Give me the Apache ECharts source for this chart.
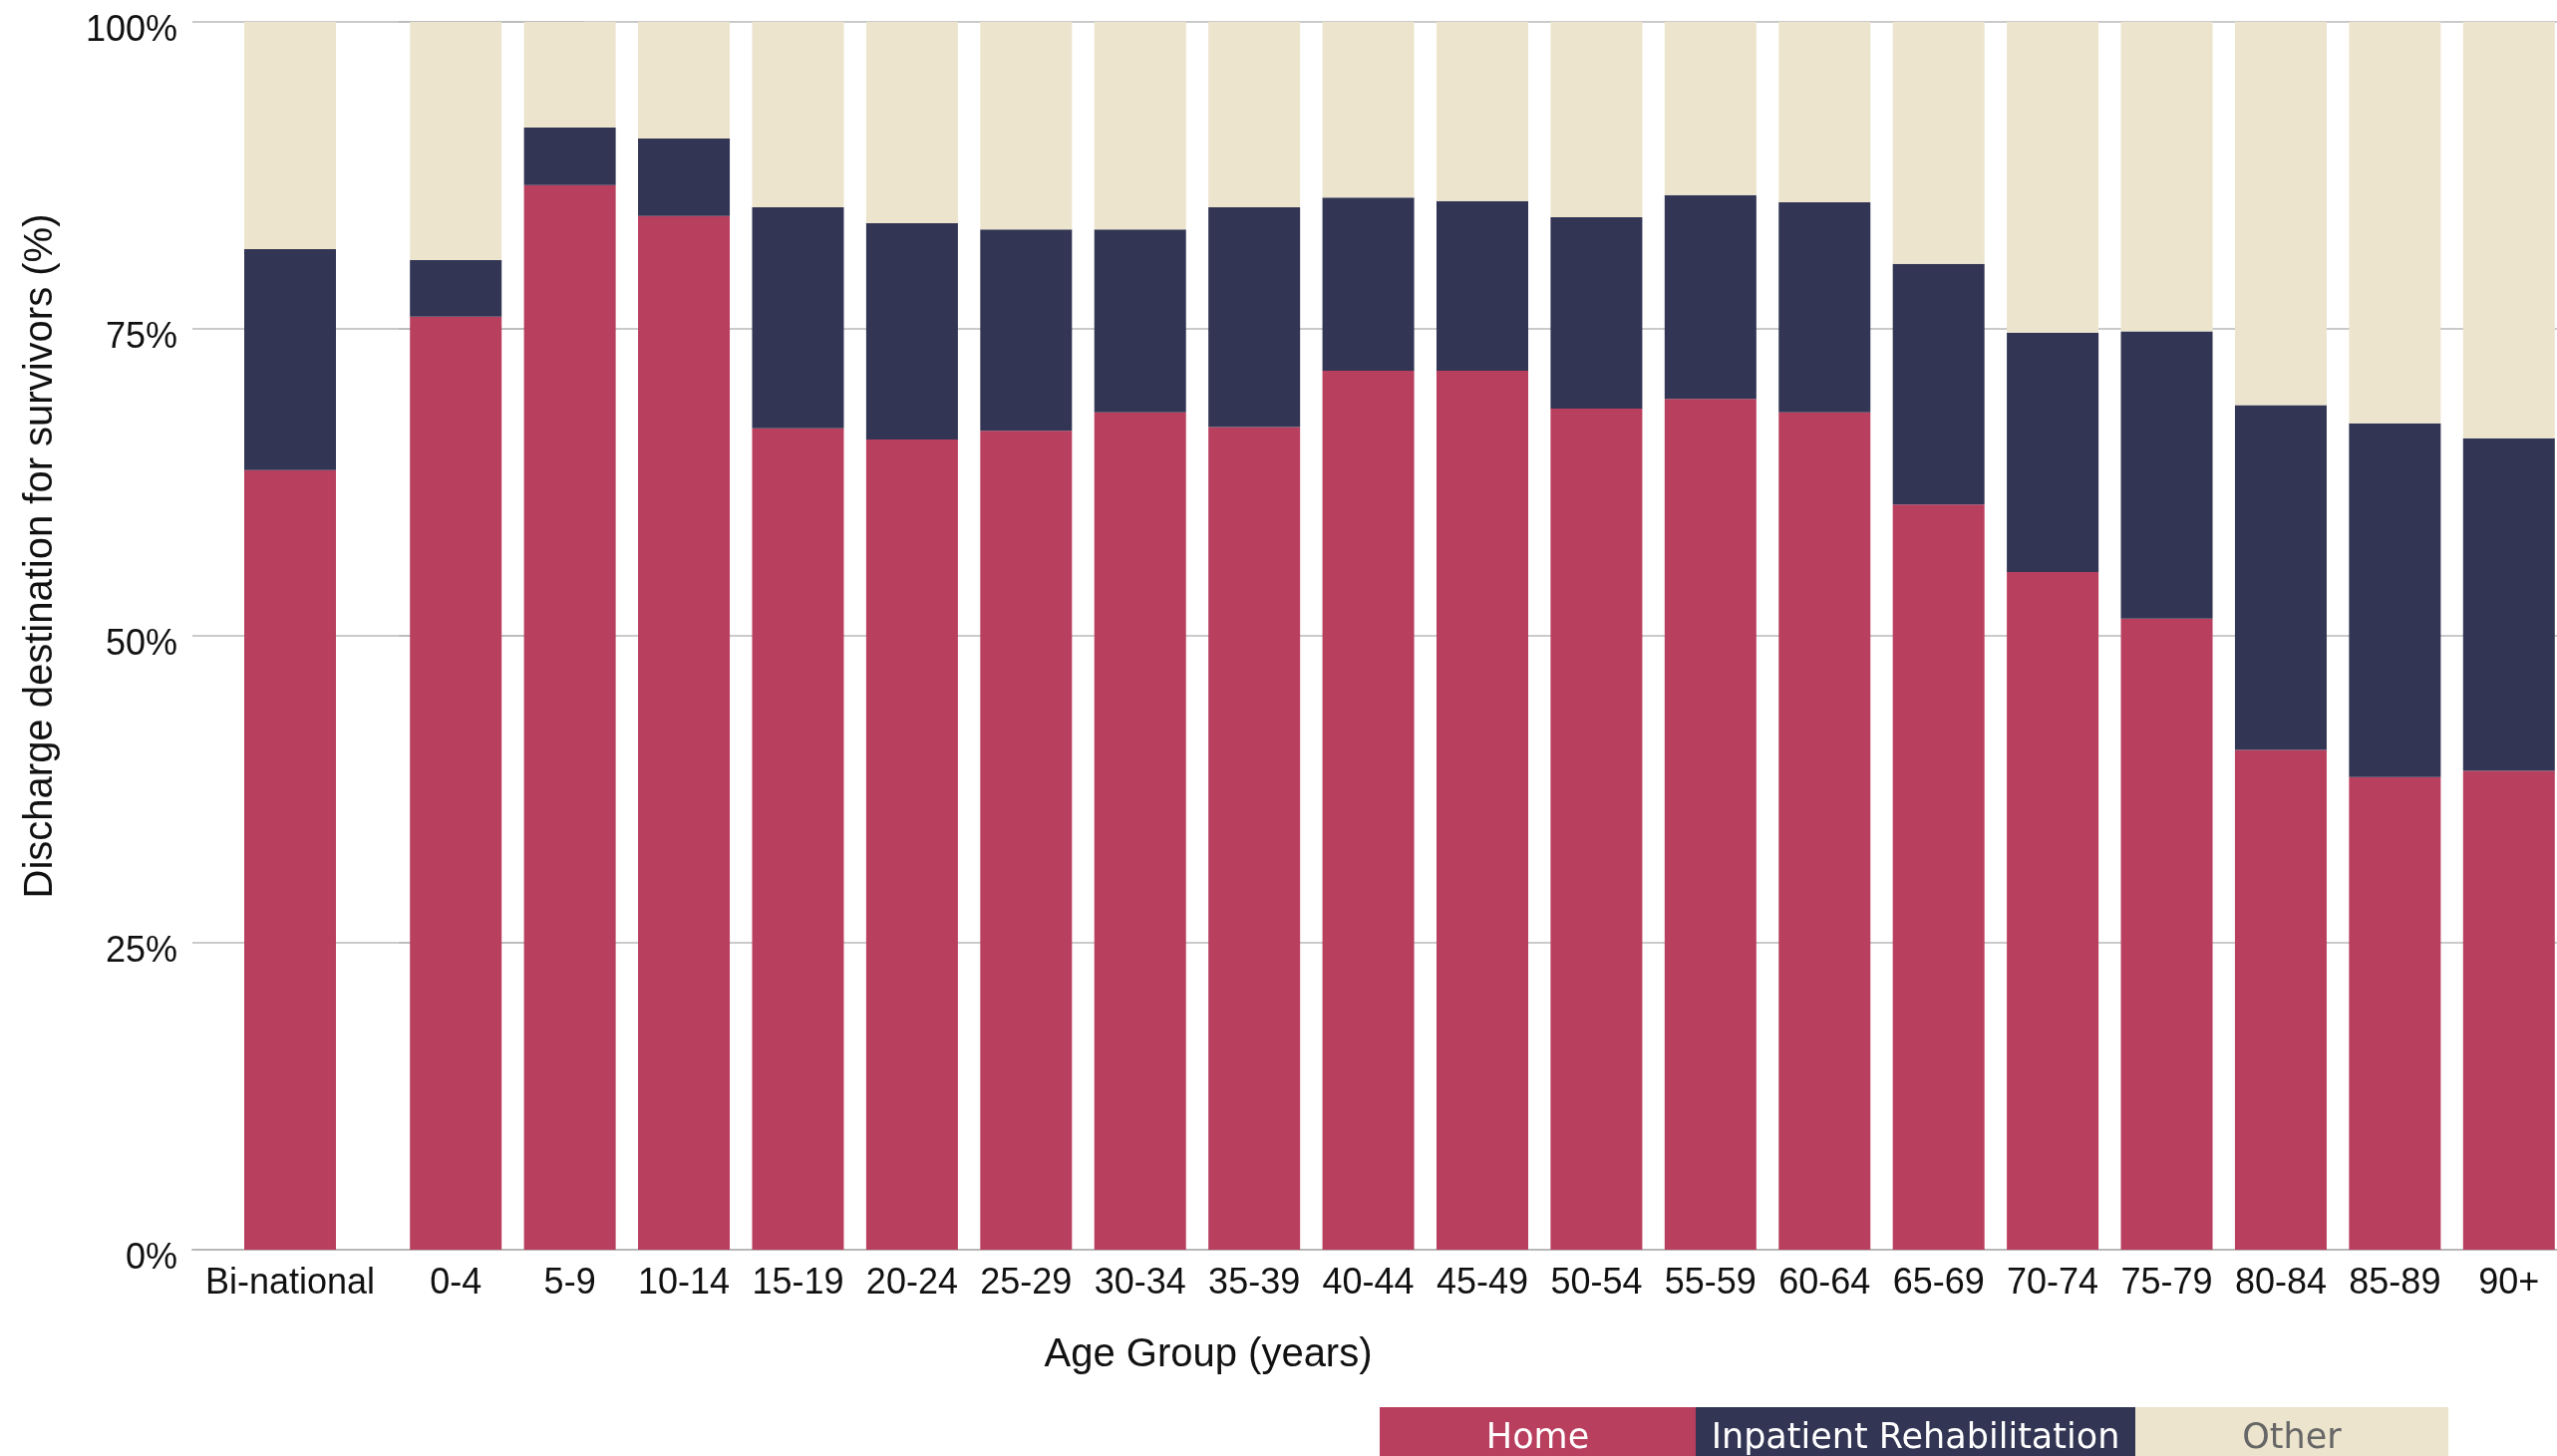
<!DOCTYPE html>
<html>
<head>
<meta charset="utf-8">
<script src="https://cdn.jsdelivr.net/npm/echarts@6/dist/echarts.min.js"></script>
<style>
html,body{margin:0;padding:0;background:#fff;}
#chart{width:2565px;height:1461px;}
</style>
</head>
<body>
<div id="chart"></div>
<script>
// ---- data ----
const nationalLabel = ['Bi-national', ''];
const nationalHome = [63.5, null];
const nationalInpatient = [18.0, null];
const nationalOther = [18.5, null];

const ageGroups = ['0-4','5-9','10-14','15-19','20-24','25-29','30-34','35-39','40-44','45-49','50-54','55-59','60-64','65-69','70-74','75-79','80-84','85-89','90+'];
const homeValues      = [76.0, 86.7, 84.2, 66.9, 66.0, 66.7, 68.2, 67.0, 71.6, 71.6, 68.5, 69.3, 68.2, 60.7, 55.2, 51.4, 40.7, 38.5, 39.0];
const inpatientValues = [ 4.6,  4.7,  6.3, 18.0, 17.6, 16.4, 14.9, 17.9, 14.1, 13.8, 15.6, 16.6, 17.1, 19.6, 19.5, 23.4, 28.1, 28.8, 27.1];
const otherValues     = [19.4,  8.6,  9.5, 15.1, 16.4, 16.9, 16.9, 15.1, 14.3, 14.6, 15.9, 14.1, 14.7, 19.7, 25.3, 25.2, 31.2, 32.7, 33.9];

const yTicks = [0, 25, 50, 75, 100];
const seriesNames = ['Home', 'Inpatient Rehabilitation', 'Other'];

// ---- style ----
const colors = {'Home': '#B93F5F', 'Inpatient Rehabilitation': '#323553', 'Other': '#ECE4CD'};
const axisFont = 'Liberation Sans, Arial, sans-serif';
const gridColor = '#b8b8b8';

const chart = echarts.init(document.getElementById('chart'), null, {renderer: 'canvas'});

function yAxisCfg(gridIndex, showLabels) {
  return {
    type: 'value', gridIndex: gridIndex, min: yTicks[0], max: yTicks[yTicks.length - 1], interval: 25,
    axisLine: {show: false}, axisTick: {show: false},
    splitLine: {show: true, lineStyle: {color: gridColor, width: 1.5}},
    axisLabel: {
      show: showLabels, margin: 15,
      formatter: function (v) { return '{t|' + v + '%}'; },
      rich: {t: {fontFamily: axisFont, fontSize: 36, color: '#111', padding: [18, 0, 0, 0]}}
    }
  };
}
function xAxisCfg(gridIndex, data) {
  return {
    type: 'category', gridIndex: gridIndex, data: data,
    axisLine: {show: true, lineStyle: {color: gridColor, width: 2}},
    axisTick: {show: false},
    axisLabel: {fontFamily: axisFont, fontSize: 36, color: '#111', margin: 16, interval: 0}
  };
}

const nationalSets = [nationalHome, nationalInpatient, nationalOther];
const ageSets = [homeValues, inpatientValues, otherValues];
const series = [];
seriesNames.forEach((name, i) => {
  series.push({
    name: name, type: 'bar', stack: 'national', xAxisIndex: 0, yAxisIndex: 0,
    data: nationalSets[i], barWidth: 92, itemStyle: {color: colors[name]},
    emphasis: {disabled: true}
  });
});
seriesNames.forEach((name, i) => {
  series.push({
    name: name, type: 'bar', stack: 'age', xAxisIndex: 1, yAxisIndex: 1,
    data: ageSets[i], barWidth: 92, itemStyle: {color: colors[name]},
    emphasis: {disabled: true}
  });
});

const legendWidths = {'Home': 317, 'Inpatient Rehabilitation': 441, 'Other': 314};
const legendKeys = {'Home': 'home', 'Inpatient Rehabilitation': 'inp', 'Other': 'oth'};
function legendRich(name, textColor) {
  return {
    width: legendWidths[name], height: 64, align: 'center', verticalAlign: 'middle',
    backgroundColor: colors[name], color: textColor,
    fontFamily: 'DejaVu Sans, sans-serif', fontSize: 35
  };
}

chart.setOption({
  animation: false,
  backgroundColor: '#fff',
  grid: [
    {left: 193, top: 22, width: 392, height: 1232, outerBoundsMode: 'none', containLabel: false},
    {left: 400, top: 22, width: 2174, height: 1232, outerBoundsMode: 'none', containLabel: false}
  ],
  xAxis: [xAxisCfg(0, nationalLabel), xAxisCfg(1, ageGroups)],
  yAxis: [yAxisCfg(0, true), yAxisCfg(1, false)],
  legend: {
    left: 1379, top: 1412, padding: 0, itemWidth: 0, itemHeight: 0, itemGap: -5, icon: 'none',
    selectedMode: false,
    data: seriesNames,
    formatter: function (name) { return '{' + legendKeys[name] + '|' + name + '}'; },
    textStyle: {
      rich: {
        home: legendRich('Home', '#ffffff'),
        inp: legendRich('Inpatient Rehabilitation', '#ffffff'),
        oth: legendRich('Other', '#666666')
      }
    }
  },
  graphic: [
    {
      type: 'text', x: 41, y: 558, rotation: Math.PI / 2,
      style: {text: 'Discharge destination for survivors (%)', font: '40px Liberation Sans, Arial, sans-serif',
              fill: '#111', align: 'center', verticalAlign: 'middle'}
    },
    {
      type: 'text', x: 1212, y: 1360,
      style: {text: 'Age Group (years)', font: '40px Liberation Sans, Arial, sans-serif',
              fill: '#111', align: 'center', verticalAlign: 'middle'}
    }
  ],
  series: series
});
</script>
</body>
</html>
